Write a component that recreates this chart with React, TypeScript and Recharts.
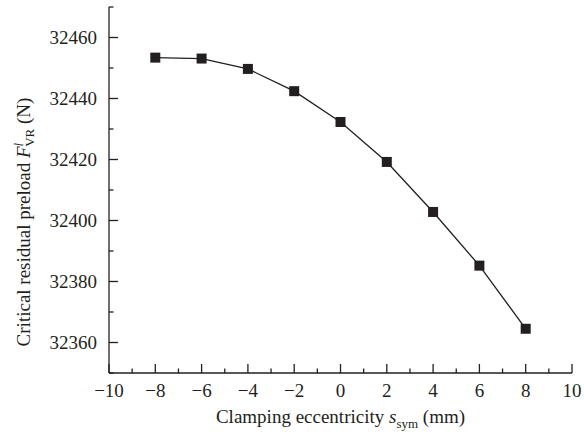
import React from 'react';
import { LineChart, Line, XAxis, YAxis } from 'recharts';

// eccentricity (mm) vs critical residual preload (N)
const eccentricity = [-8, -6, -4, -2, 0, 2, 4, 6, 8];
const preload = [32453.4, 32453.1, 32449.7, 32442.4, 32432.3, 32419.2, 32402.8, 32385.2, 32364.5];

const xTicks = [-10, -9, -8, -7, -6, -5, -4, -3, -2, -1, 0, 1, 2, 3, 4, 5, 6, 7, 8, 9, 10];
const xMajor = [-10, -8, -6, -4, -2, 0, 2, 4, 6, 8, 10];
const yTicks = [32350, 32360, 32370, 32380, 32390, 32400, 32410, 32420, 32430, 32440, 32450, 32460, 32470];
const yMajor = [32360, 32380, 32400, 32420, 32440, 32460];

const data = eccentricity.map((x, i) => ({ x, y: preload[i] }));

const INK = '#231f20';
const FONT = '"Liberation Serif", "DejaVu Serif", serif';
const FS = 19;
const W = 584;
const H = 432;
const MARGIN = { top: 7, right: 12, left: 0, bottom: 0 };
const X_AXIS_H = 59;
const Y_AXIS_W = 109;

const fmt = (v: number) => (v < 0 ? '\u2212' + Math.abs(v) : String(v));

const XTick = (props: any) => {
  const { x, y, payload } = props;
  const major = xMajor.includes(payload.value);
  return (
    <g>
      <line x1={x} x2={x} y1={y} y2={y - (major ? 9 : 4.5)} stroke={INK} strokeWidth={1.3} />
      {major && (
        <text x={x} y={y + 24} textAnchor="middle" fill={INK} fontSize={FS} fontFamily={FONT}>
          {fmt(payload.value)}
        </text>
      )}
    </g>
  );
};

const YTick = (props: any) => {
  const { x, y, payload } = props;
  const major = yMajor.includes(payload.value);
  return (
    <g>
      <line x1={x} x2={x + (major ? 9 : 4.5)} y1={y} y2={y} stroke={INK} strokeWidth={1.3} />
      {major && (
        <text x={x - 12} y={y} dy="0.35em" textAnchor="end" fill={INK} fontSize={FS} fontFamily={FONT}>
          {payload.value}
        </text>
      )}
    </g>
  );
};

const Square = (props: any) => {
  const { cx, cy } = props;
  if (cx == null || cy == null) return null;
  return <rect x={cx - 5} y={cy - 5} width={10} height={10} fill={INK} />;
};

const XTitle = () => {
  const plotLeft = MARGIN.left + Y_AXIS_W;
  const cx = plotLeft + (W - MARGIN.right - plotLeft) / 2;
  const base = H - X_AXIS_H + 50;
  return (
    <text x={cx} y={base} textAnchor="middle" fill={INK} fontSize={FS} fontFamily={FONT}>
      Clamping eccentricity <tspan fontStyle="italic">s</tspan>
      <tspan fontSize={13} dy={5}>sym</tspan>
      <tspan dy={-5}> (mm)</tspan>
    </text>
  );
};

const YTitle = () => {
  const plotH = H - MARGIN.top - X_AXIS_H;
  const cy = MARGIN.top + plotH / 2 + 32;
  const tx = 30;
  return (
    <text
      x={tx}
      y={cy}
      transform={`rotate(-90, ${tx}, ${cy})`}
      textAnchor="middle"
      fill={INK}
      fontSize={FS}
      fontFamily={FONT}
    >
      Critical residual preload <tspan fontStyle="italic">F</tspan>
      <tspan fontSize={13} fontStyle="italic" dy={-7}>l</tspan>
      <tspan fontSize={13} dx={-4} dy={11}>VR</tspan>
      <tspan dy={-4}> (N)</tspan>
    </text>
  );
};

export default function App() {
  return (
    <div style={{ position: 'absolute', left: 0, top: 0, background: '#fff' }}>
      <LineChart width={W} height={H} data={data} margin={MARGIN}>
        <XAxis
          dataKey="x"
          type="number"
          domain={[-10, 10]}
          ticks={xTicks}
          interval={0}
          tickSize={0}
          tickMargin={0}
          tickLine={false}
          tick={<XTick />}
          height={X_AXIS_H}
          axisLine={{ stroke: INK, strokeWidth: 1.3 }}
          label={<XTitle />}
        />
        <XAxis
          xAxisId="top"
          orientation="top"
          type="number"
          domain={[-10, 10]}
          tick={false}
          tickLine={false}
          height={0}
          axisLine={{ stroke: INK, strokeWidth: 1.3 }}
        />
        <YAxis
          type="number"
          domain={[32350, 32470]}
          ticks={yTicks}
          interval={0}
          tickSize={0}
          tickMargin={0}
          tickLine={false}
          tick={<YTick />}
          width={Y_AXIS_W}
          axisLine={{ stroke: INK, strokeWidth: 1.3 }}
          label={<YTitle />}
        />
        <YAxis
          yAxisId="right"
          orientation="right"
          type="number"
          domain={[32350, 32470]}
          tick={false}
          tickLine={false}
          width={0}
          axisLine={{ stroke: INK, strokeWidth: 1.3 }}
        />
        <Line
          type="linear"
          dataKey="y"
          stroke={INK}
          strokeWidth={1.3}
          dot={<Square />}
          activeDot={false}
          isAnimationActive={false}
        />
      </LineChart>
    </div>
  );
}
